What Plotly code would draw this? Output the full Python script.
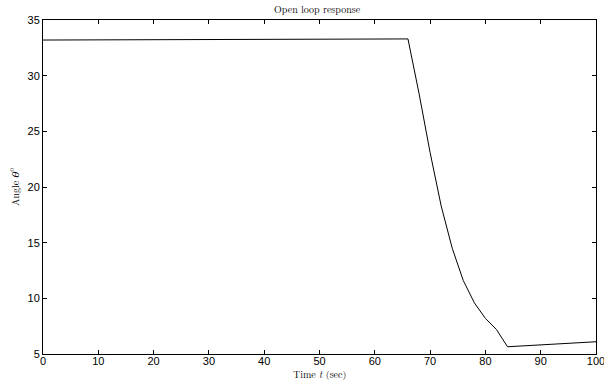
import plotly.graph_objects as go

# Open loop angle response (sampled every 2 s during the transient)
time_s = [0, 66, 68, 70, 72, 74, 76, 78, 80, 82, 84, 100]
angle_deg = [33.2, 33.3, 28.4, 23.1, 18.3, 14.5, 11.6, 9.6, 8.2, 7.2, 5.65, 6.1]

x_ticks = [0, 10, 20, 30, 40, 50, 60, 70, 80, 90, 100]
y_ticks = [5, 10, 15, 20, 25, 30, 35]

serif = "Latin Modern Roman, DejaVu Serif, Liberation Serif, serif"
sans = "Liberation Sans, Arial, sans-serif"

fig = go.Figure(
    go.Scatter(
        x=time_s,
        y=angle_deg,
        mode="lines",
        line=dict(color="black", width=1),
        showlegend=False,
    )
)

axis_common = dict(
    showline=True,
    linecolor="black",
    linewidth=1,
    mirror="ticks",
    ticks="inside",
    ticklen=4,
    tickwidth=1,
    tickcolor="black",
    showgrid=False,
    zeroline=False,
    automargin=False,
    ticklabeloverflow="allow",
    tickfont=dict(family=sans, size=11, color="black"),
)

plot_h = 381 - 20 - 27

fig.update_layout(
    width=604,
    height=381,
    margin=dict(l=43, r=8, t=20, b=27),
    paper_bgcolor="white",
    plot_bgcolor="white",
    title=dict(
        text="Open loop response",
        font=dict(family=serif, size=10, color="black"),
        x=0.525,
        xanchor="center",
        y=0.975,
        yanchor="middle",
    ),
    xaxis=dict(
        range=[0, 100],
        tickvals=x_ticks,
        ticklabelstandoff=-3,
        **axis_common,
    ),
    yaxis=dict(
        range=[5, 35],
        tickvals=y_ticks,
        title=dict(
            text="Angle <i>θ</i><sup>o</sup>",
            font=dict(family=serif, size=10, color="black"),
            standoff=6,
        ),
        **axis_common,
    ),
    annotations=[
        dict(
            text="Time <i>t</i> (sec)",
            xref="paper",
            yref="paper",
            x=0.5,
            y=-20 / plot_h,
            xanchor="center",
            yanchor="middle",
            showarrow=False,
            font=dict(family=serif, size=10, color="black"),
        )
    ],
)

fig.write_html("out.html")
